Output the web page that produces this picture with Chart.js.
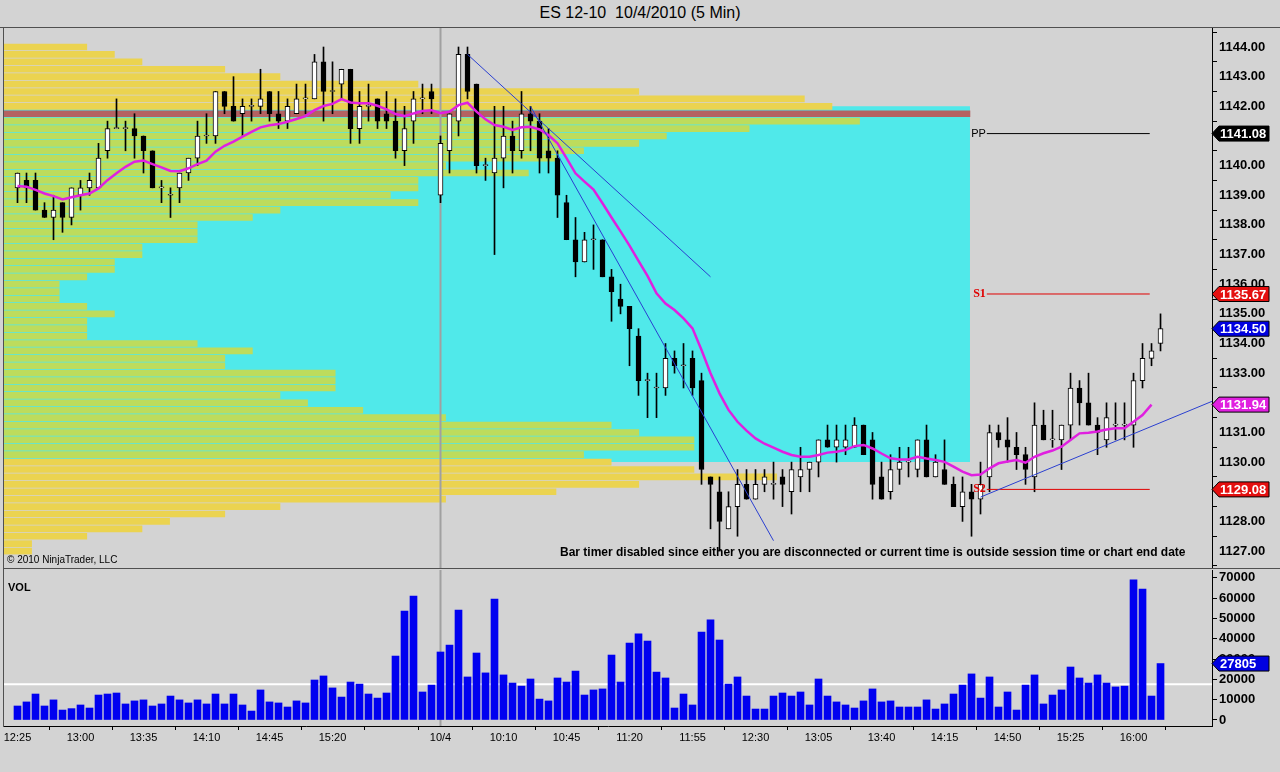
<!DOCTYPE html>
<html>
<head>
<meta charset="utf-8">
<title>ES 12-10 10/4/2010 (5 Min)</title>
<script src="https://cdn.jsdelivr.net/npm/chart.js@4.4.1/dist/chart.umd.min.js"></script>
<style>
  html, body { margin: 0; padding: 0; background: #d3d3d3; }
  #wrap { position: relative; width: 1280px; height: 772px; overflow: hidden; font-family: "Liberation Sans", Arial, sans-serif; }
  #title { position: absolute; top: 4px; left: 0; width: 1280px; text-align: center; font-size: 16px; line-height: 18px; }
  canvas { position: absolute; left: 0; }
  #cPrice { top: 28px; }
  #cVol { top: 568px; }
  .rule { position: absolute; background: #505050; }
  .note { position: absolute; color: #000; white-space: nowrap; line-height: 12px; }
</style>
</head>
<body>
<div id="wrap">
  <div id="title">ES 12-10&nbsp;&nbsp;10/4/2010 (5 Min)</div>
  <canvas id="cPrice" width="1280" height="540"></canvas>
  <canvas id="cVol" width="1280" height="204"></canvas>
  <div class="rule" style="left:0;top:27px;width:1280px;height:1px"></div>
  <div class="rule" style="left:3px;top:28px;width:1px;height:699px"></div>
  <div class="rule" style="left:3px;top:568px;width:1277px;height:1px"></div>
  <div class="note" style="left:7px;top:554px;font-size:10px">© 2010 NinjaTrader, LLC</div>
  <div class="note" style="left:560px;top:546px;font-size:12px;font-weight:bold">Bar timer disabled since either you are disconnected or current time is outside session time or chart end date</div>
  <div class="note" style="left:8px;top:581px;font-size:11px;font-weight:bold">VOL</div>
</div>
<script>
// bars: 12:25 .. 16:15 (10/1) then 9:35 .. 16:15 (10/4), 5 min
const open = [
  1139.25,1139.5,1139.5,1138.5,1138.25,1138.75,1138.25,1139.0,1139.25,1139.25,
  1140.5,1141.25,1141.25,1141.25,1141.0,1140.5,1139.25,1139.0,1139.25,1139.75,
  1140.25,1141.0,1141.0,1142.5,1142.0,1141.75,1142.0,1142.0,1142.5,1141.75,
  1141.5,1141.75,1142.25,1142.25,1143.5,1142.5,1142.75,1143.25,1141.25,1142.0,
  1142.25,1141.75,1141.5,1140.5,1141.5,1142.25,1142.5,1139.0,1140.5,1141.5,
  1143.75,1142.75,1140.0,1139.75,1140.25,1141.0,1140.5,1141.75,1141.5,1140.5,
  1140.25,1138.75,1137.5,1136.75,1137.5,1137.5,1136.25,1135.5,1135.25,1134.25,
  1132.75,1132.5,1132.5,1133.5,1133.25,1133.5,1132.75,1129.5,1129.0,1127.75,
  1128.5,1129.25,1128.75,1129.25,1129.25,1129.5,1129.0,1129.5,1129.75,1130.0,
  1130.75,1130.5,1130.5,1130.5,1131.25,1130.75,1129.5,1129.0,1129.75,1130.0,
  1129.75,1130.75,1129.5,1129.75,1129.25,1128.5,1129.0,1128.75,1129.5,1131.0,
  1130.75,1130.5,1130.25,1129.5,1131.25,1130.75,1130.75,1131.25,1132.5,1132.0,
  1131.25,1130.75,1131.25,1131.25,1131.25,1132.75,1133.5,1134.0
];
const high = [
  1139.75,1139.75,1139.75,1138.75,1139.0,1138.75,1139.25,1139.5,1139.75,1140.75,
  1141.5,1142.25,1141.5,1141.75,1141.0,1140.5,1139.5,1139.25,1139.75,1140.25,
  1141.5,1141.75,1142.5,1142.5,1143.0,1142.25,1142.25,1143.25,1142.5,1142.5,
  1142.25,1142.75,1142.75,1143.75,1144.0,1143.5,1143.25,1143.25,1142.5,1142.75,
  1142.25,1142.5,1142.25,1142.0,1142.5,1142.75,1142.75,1141.0,1141.75,1144.0,
  1144.0,1142.75,1140.25,1142.0,1142.0,1141.5,1142.5,1142.0,1141.75,1141.25,
  1140.5,1139.0,1138.25,1137.75,1138.0,1137.5,1136.5,1136.0,1135.25,1134.5,
  1133.0,1133.0,1134.0,1133.75,1134.0,1133.75,1133.0,1129.5,1129.5,1129.0,
  1129.75,1129.75,1129.75,1129.75,1130.0,1129.75,1130.0,1130.5,1130.0,1130.75,
  1131.25,1131.25,1131.25,1131.5,1131.25,1131.0,1130.0,1130.25,1130.5,1130.5,
  1130.75,1131.25,1130.25,1130.75,1129.5,1129.5,1129.25,1130.0,1131.25,1131.25,
  1131.5,1131.0,1130.5,1132.0,1131.75,1131.75,1131.25,1133.0,1132.75,1133.0,
  1131.5,1132.0,1132.0,1132.0,1133.0,1134.0,1134.0,1135.0
];
const low = [
  1138.75,1138.75,1138.5,1138.25,1137.5,1137.75,1138.0,1138.5,1139.0,1139.25,
  1140.25,1141.25,1140.5,1140.25,1139.75,1139.25,1138.75,1138.25,1138.75,1139.5,
  1140.0,1140.75,1140.75,1141.75,1141.5,1141.0,1141.5,1141.75,1141.5,1141.25,
  1141.25,1141.75,1141.75,1142.25,1141.5,1141.75,1142.25,1140.75,1140.75,1141.5,
  1141.25,1141.25,1140.25,1140.0,1140.75,1141.75,1141.75,1138.75,1139.75,1141.0,
  1142.25,1139.75,1139.5,1137.0,1139.25,1139.75,1140.25,1140.5,1139.75,1139.75,
  1138.25,1137.5,1136.25,1136.75,1136.5,1136.25,1134.75,1135.0,1133.25,1132.25,
  1131.5,1131.5,1132.25,1133.0,1132.5,1132.25,1129.25,1127.75,1127.0,1127.75,
  1127.5,1128.75,1128.75,1129.0,1128.75,1128.5,1128.25,1129.0,1129.0,1129.5,
  1130.5,1130.0,1130.25,1130.5,1130.25,1128.75,1128.75,1128.75,1129.25,1129.5,
  1129.5,1129.5,1129.5,1129.25,1128.5,1128.0,1127.5,1128.25,1129.0,1130.5,
  1130.0,1129.75,1129.25,1129.0,1130.75,1130.5,1129.75,1130.75,1131.25,1131.25,
  1130.25,1130.5,1130.75,1130.75,1130.5,1132.5,1133.25,1133.75
];
const close = [
  1139.75,1139.25,1138.5,1138.25,1138.5,1138.25,1139.25,1139.25,1139.5,1140.25,
  1141.25,1141.25,1141.25,1141.0,1140.5,1139.25,1139.25,1139.0,1139.75,1140.25,
  1141.0,1141.0,1142.5,1142.0,1141.5,1142.0,1142.0,1142.25,1141.75,1141.5,
  1142.0,1142.25,1142.25,1143.5,1142.5,1142.5,1143.25,1141.25,1142.0,1142.0,
  1141.5,1141.5,1140.5,1141.25,1142.25,1142.25,1142.25,1140.75,1141.75,1143.75,
  1142.5,1140.0,1140.0,1140.25,1141.0,1140.5,1141.75,1141.5,1140.25,1140.25,
  1139.0,1137.5,1136.75,1137.5,1137.5,1136.25,1135.75,1135.25,1134.5,1132.75,
  1132.75,1132.5,1133.5,1133.25,1133.25,1132.5,1129.75,1129.25,1128.0,1128.5,
  1129.25,1128.75,1129.25,1129.5,1129.25,1129.25,1129.75,1129.75,1130.0,1130.75,
  1130.5,1130.75,1130.75,1131.25,1130.25,1129.25,1128.75,1129.75,1130.0,1130.0,
  1130.75,1129.5,1130.0,1129.25,1128.5,1129.0,1128.75,1129.25,1131.0,1130.75,
  1130.5,1130.25,1129.75,1131.25,1130.75,1130.75,1131.25,1132.5,1132.0,1131.25,
  1131.0,1131.5,1131.25,1131.25,1132.75,1133.5,1133.75,1134.5
];
// moving average (magenta); no value on the last bar
const ma = [
  1139.31,1139.29,1139.18,1139.06,1138.97,1138.86,1138.93,1139.0,1139.06,1139.23,
  1139.51,1139.74,1139.96,1140.13,1140.17,1140.05,1139.94,1139.82,1139.81,1139.91,
  1140.05,1140.17,1140.47,1140.67,1140.81,1140.98,1141.14,1141.29,1141.36,1141.4,
  1141.48,1141.57,1141.67,1141.87,1142.01,1142.08,1142.24,1142.13,1142.1,1142.1,
  1142.02,1141.9,1141.74,1141.67,1141.76,1141.84,1141.87,1141.77,1141.82,1142.04,
  1142.12,1141.82,1141.56,1141.37,1141.31,1141.2,1141.29,1141.31,1141.22,1141.03,
  1140.75,1140.25,1139.74,1139.46,1139.19,1138.73,1138.25,1137.78,1137.3,1136.79,
  1136.28,1135.69,1135.35,1135.13,1134.85,1134.51,1133.78,1133.0,1132.32,1131.76,
  1131.36,1131.06,1130.8,1130.62,1130.49,1130.35,1130.24,1130.18,1130.18,1130.24,
  1130.32,1130.35,1130.41,1130.54,1130.58,1130.46,1130.29,1130.13,1130.09,1130.09,
  1130.18,1130.12,1130.07,1130.01,1129.85,1129.68,1129.56,1129.58,1129.79,1129.96,
  1130.02,1130.07,1129.98,1130.18,1130.3,1130.39,1130.52,1130.75,1130.97,1130.99,
  1131.03,1131.1,1131.14,1131.14,1131.36,1131.59,1131.94,null
];
const volume = [
  6900,8900,12800,6900,9900,4900,5600,7400,5900,12300,
  12800,13300,7900,9400,9900,6900,7900,11800,9900,8400,
  9900,7900,12800,7900,12800,7400,4400,14800,8900,8400,
  6400,9400,8400,19700,21700,15800,11300,18700,17700,12800,
  10800,13300,31500,53700,61100,13800,17200,33500,36900,54200,
  21200,33000,23200,59600,22200,18200,16700,20200,10300,9400,
  20700,18700,24100,12300,14800,15300,32000,18700,37900,42400,
  38900,23600,20700,5900,12800,7400,43300,49300,39400,17700,
  21200,11800,5400,5400,11800,13300,11800,13800,7400,20200,
  11800,8900,7400,5900,9400,15300,8900,9400,6400,6400,
  6400,9900,5400,7900,12800,17200,22700,10800,21200,6400,
  13800,4900,17200,22200,7900,12300,14800,26100,20700,18200,
  22200,18200,16300,16700,69000,64500,11800,27805
];
const volAvgLine = 17600;

// time axis
const xTickIdx = [0, 7, 14, 21, 28, 35, 42, 47, 54, 61, 68, 75, 82, 89, 96, 103, 110, 117, 124];
const xTickLabels = ['12:25','13:00','13:35','14:10','14:45','15:20','','10/4','10:10','10:45',
  '11:20','11:55','12:30','13:05','13:40','14:15','14:50','15:25','16:00'];
const sessionBreakIdx = 47;

const priceTicks = [1127,1128,1129,1130,1131,1132,1133,1134,1135,1136,1137,1138,1139,1140,1141,1142,1143,1144];
const volTicks = [0,10000,20000,30000,40000,50000,60000,70000];

// volume profile of 10/1 (count per price row)
const profilePrice = [
  1144.00,1143.75,1143.50,1143.25,1143.00,1142.75,1142.50,1142.25,1142.00,1141.75,
  1141.50,1141.25,1141.00,1140.75,1140.50,1140.25,1140.00,1139.75,1139.50,1139.25,
  1139.00,1138.75,1138.50,1138.25,1138.00,1137.75,1137.50,1137.25,1137.00,1136.75,
  1136.50,1136.25,1136.00,1135.75,1135.50,1135.25,1135.00,1134.75,1134.50,1134.25,
  1134.00,1133.75,1133.50,1133.25,1133.00,1132.75,1132.50,1132.25,1132.00,1131.75,
  1131.50,1131.25,1131.00,1130.75,1130.50,1130.25,1130.00,1129.75,1129.50,1129.25,
  1129.00,1128.75,1128.50,1128.25,1128.00,1127.75,1127.50,1127.25,1127.00
];
const profileCount = [
  3,4,5,8,10,15,23,29,30,35,
  31,27,24,23,21,20,16,19,15,15,
  14,15,10,9,7,7,7,5,5,4,
  4,3,2,2,2,3,4,3,3,3,
  7,9,8,8,12,12,12,10,11,13,
  16,22,23,25,25,21,22,25,28,23,
  20,16,10,8,6,5,3,1,1
];
const profilePOC = 1141.75;
const valueAreaHigh = 1141.50, valueAreaLow = 1130.25;
const valueBoxTop = 1142.0, valueBoxBottom = 1130.0, valueBoxLen = 35;

// pivots
const pivotNames = ['PP', 'S1', 'S2'];
const pivotValues = [1141.08, 1135.67, 1129.08];
const pivotColors = ['#000000', '#e00000', '#e00000'];
const pivotFrom = 107.7, pivotTo = 125.8;

// drawn trend lines [idx, price]
const trendLines = [
  [[50, 1143.75], [77, 1136.25]],
  [[57, 1142.0], [84, 1127.35]],
  [[107, 1128.82], [132.72, 1132.05]]
];

const X_MIN = -1.5, X_MAX = 132.72;
const P_MIN = 1126.429, P_MAX = 1144.641;
const V_MIN = -2956, V_MAX = 73892;

Chart.defaults.font.family = '"Liberation Sans", Arial, sans-serif';
Chart.defaults.color = '#000';

const axisFont = { size: 13, weight: 'bold' };
const idx = open.map((v, i) => i);

function drawTag(ctx, x, y, text, fill) {
  const h = 15, w = 57, tip = 7;
  ctx.beginPath();
  ctx.moveTo(x, y);
  ctx.lineTo(x + tip, y - h / 2);
  ctx.lineTo(x + w, y - h / 2);
  ctx.lineTo(x + w, y + h / 2);
  ctx.lineTo(x + tip, y + h / 2);
  ctx.closePath();
  ctx.fillStyle = fill;
  ctx.fill();
  ctx.strokeStyle = '#000';
  ctx.lineWidth = 1;
  ctx.stroke();
  ctx.fillStyle = '#fff';
  ctx.font = 'bold 13px "Liberation Sans"';
  ctx.textAlign = 'left';
  ctx.textBaseline = 'middle';
  ctx.fillText(text, x + 8, y + 1);
}

const priceOverlay = {
  id: 'priceOverlay',
  afterDatasetsDraw(chart) {
    const { ctx, scales: { x, y } } = chart;
    ctx.save();
    pivotNames.forEach((name, i) => {
      ctx.font = i === 0 ? '11px "Liberation Sans"' : 'bold 12px "Liberation Serif"';
      ctx.fillStyle = pivotColors[i];
      ctx.textAlign = 'right';
      ctx.textBaseline = 'middle';
      ctx.fillText(name, x.getPixelForValue(pivotFrom) - 1, y.getPixelForValue(pivotValues[i]));
    });
    ctx.restore();
  },
  afterDraw(chart) {
    const { ctx, chartArea, scales: { y } } = chart;
    ctx.save();
    const tags = [
      [pivotValues[0], '#000000'],
      [pivotValues[1], '#e41010'],
      [close[close.length - 1], '#0000e0'],
      [ma[ma.length - 2], '#e020e0'],
      [pivotValues[2], '#e41010']
    ];
    tags.forEach(t => drawTag(ctx, chartArea.right, y.getPixelForValue(t[0]), t[0].toFixed(2), t[1]));
    ctx.restore();
  }
};

const volOverlay = {
  id: 'volOverlay',
  afterDraw(chart) {
    const { ctx, chartArea, scales: { y } } = chart;
    const last = volume[volume.length - 1];
    ctx.save();
    drawTag(ctx, chartArea.right, y.getPixelForValue(last), String(last), '#0000e0');
    ctx.restore();
  }
};

const lineBase = { type: 'line', pointRadius: 0, borderWidth: 1, fill: false };

new Chart(document.getElementById('cPrice'), {
  type: 'bar',
  data: {
    datasets: [
      {
        ...lineBase, xAxisID: 'xp', order: 10,
        data: [{ x: 0, y: valueBoxTop }, { x: valueBoxLen, y: valueBoxTop }],
        borderWidth: 0, borderColor: 'rgba(0,0,0,0)',
        fill: { value: valueBoxBottom }, backgroundColor: '#50e9ea'
      },
      {
        type: 'bar', indexAxis: 'y', xAxisID: 'xp', grouped: false, order: 9,
        data: profilePrice.map((p, i) => ({ x: profileCount[i], y: p })),
        backgroundColor: profilePrice.map(p => p === profilePOC ? '#b46262'
          : (p <= valueAreaHigh && p >= valueAreaLow ? '#bddc5c' : '#ebd350')),
        barThickness: 6, borderWidth: 0
      },
      {
        ...lineBase, order: 8, borderColor: '#a0a0a0', borderWidth: 2,
        data: [{ x: sessionBreakIdx, y: P_MIN }, { x: sessionBreakIdx, y: P_MAX }]
      },
      {
        type: 'bar', grouped: false, order: 6,
        data: idx.map(i => ({ x: i, y: [low[i], high[i]] })),
        backgroundColor: '#000', barThickness: 1, borderWidth: 0
      },
      {
        type: 'bar', grouped: false, order: 5,
        data: idx.map(i => ({ x: i, y: [Math.min(open[i], close[i]), Math.max(open[i], close[i])] })),
        backgroundColor: idx.map(i => close[i] >= open[i] ? '#ffffff' : '#000000'),
        borderColor: '#000', borderWidth: 1, borderSkipped: false, minBarLength: 1, barThickness: 5
      },
      {
        ...lineBase, order: 4, borderColor: '#e020e0', borderWidth: 2.5,
        data: idx.filter(i => ma[i] !== null).map(i => ({ x: i, y: ma[i] }))
      },
      ...pivotValues.map((v, i) => ({
        ...lineBase, order: 3, borderColor: pivotColors[i],
        data: [{ x: pivotFrom, y: v }, { x: pivotTo, y: v }]
      })),
      ...trendLines.map(t => ({
        ...lineBase, order: 2, borderColor: '#2a3fd0',
        data: t.map(p => ({ x: p[0], y: p[1] }))
      }))
    ]
  },
  options: {
    responsive: false, animation: false, devicePixelRatio: 1, events: [],
    layout: { padding: { left: 4, right: 0, top: 0, bottom: 0 } },
    plugins: { legend: { display: false }, tooltip: { enabled: false } },
    scales: {
      x: { type: 'linear', min: X_MIN, max: X_MAX, offset: false, display: false },
      xp: { type: 'linear', axis: 'x', min: 0, max: 43.77, offset: false, display: false },
      y: {
        type: 'linear', position: 'right', min: P_MIN, max: P_MAX, offset: false,
        afterBuildTicks: s => { s.ticks = priceTicks.map(v => ({ value: v })); },
        afterFit: s => { s.width = 68; s.paddingTop = 0; s.paddingBottom = 0; },
        ticks: { callback: v => Number(v).toFixed(2), font: axisFont, color: '#000', padding: 2 },
        grid: { drawOnChartArea: false, tickLength: 5, color: '#000' },
        border: { color: '#000' }
      }
    }
  },
  plugins: [priceOverlay]
});

new Chart(document.getElementById('cVol'), {
  type: 'bar',
  data: {
    datasets: [
      {
        ...lineBase, order: 5, borderColor: '#a0a0a0', borderWidth: 2,
        data: [{ x: sessionBreakIdx, y: V_MIN }, { x: sessionBreakIdx, y: V_MAX }]
      },
      {
        ...lineBase, order: 4, borderColor: '#ffffff', borderWidth: 2,
        data: [{ x: X_MIN, y: volAvgLine }, { x: X_MAX, y: volAvgLine }]
      },
      {
        type: 'bar', grouped: false, order: 1,
        data: idx.map(i => ({ x: i, y: volume[i] })),
        backgroundColor: '#0000f0', barThickness: 7, borderWidth: 0
      }
    ]
  },
  options: {
    responsive: false, animation: false, devicePixelRatio: 1, events: [],
    layout: { padding: { left: 4, right: 0, top: 2, bottom: 0 } },
    plugins: { legend: { display: false }, tooltip: { enabled: false } },
    scales: {
      x: {
        type: 'linear', position: 'bottom', min: X_MIN, max: X_MAX, offset: false,
        afterBuildTicks: s => { s.ticks = xTickIdx.map(v => ({ value: v })); },
        afterFit: s => { s.height = 46; s.paddingLeft = 0; s.paddingRight = 0; },
        ticks: { autoSkip: false, maxRotation: 0, padding: 1, font: { size: 11 }, color: '#000',
          callback: (v, i) => xTickLabels[i] },
        grid: { drawOnChartArea: false, tickLength: 4, color: '#000' },
        border: { color: '#000' }
      },
      y: {
        type: 'linear', position: 'right', min: V_MIN, max: V_MAX, offset: false,
        afterBuildTicks: s => { s.ticks = volTicks.map(v => ({ value: v })); },
        afterFit: s => { s.width = 68; s.paddingTop = 0; s.paddingBottom = 0; },
        ticks: { callback: v => String(v), font: axisFont, color: '#000', padding: 2 },
        grid: { drawOnChartArea: false, tickLength: 5, color: '#000' },
        border: { color: '#000' }
      }
    }
  },
  plugins: [volOverlay]
});
</script>
</body>
</html>
